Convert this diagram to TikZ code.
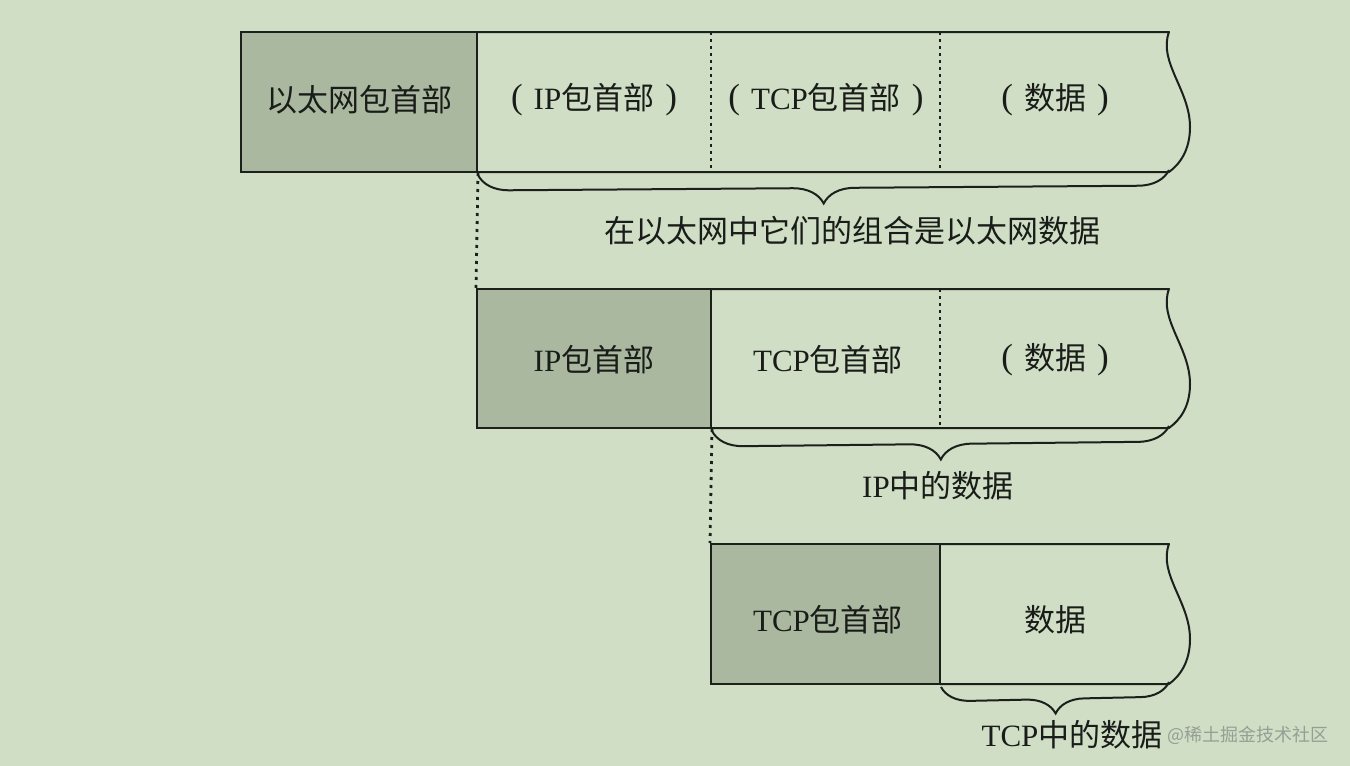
\documentclass[tikz,border=0pt]{standalone}
\usepackage{fontspec}
\setmainfont{Liberation Serif}
\newfontfamily\cjk{Noto Sans CJK SC}
\usetikzlibrary{decorations.pathreplacing}
\definecolor{bg}{RGB}{207,222,196}
\definecolor{darkfill}{RGB}{170,184,160}
\definecolor{linec}{RGB}{28,32,28}
\definecolor{txt}{RGB}{25,28,25}
\definecolor{wm}{RGB}{150,158,150}
\newcommand\fsz{\fontsize{31}{36}\selectfont}
\newcommand\lp{\raisebox{1pt}{\fontsize{35}{36}\selectfont(}\hspace{11pt}}
\newcommand\rp{\hspace{11pt}\raisebox{1pt}{\fontsize{35}{36}\selectfont)}}
\begin{document}
\begin{tikzpicture}[x=1pt,y=-1pt,
  hdr/.style={draw=linec, fill=darkfill, line width=2pt, minimum height=140pt, inner sep=0pt},
  lbl/.style={font=\fsz, text=txt, inner sep=0pt},
  outline/.style={draw=linec, line width=2pt, line join=round},
  sepline/.style={draw=linec, line width=2pt, dash pattern=on 2.5pt off 4.5pt},
  conn/.style={draw=linec, line width=2.8pt, dash pattern=on 3pt off 5pt},
  brc/.style={draw=linec, decorate, decoration={brace, mirror, amplitude=31pt}, line width=2pt},
]
\fill[bg] (0,0) rectangle (1350,766);
\useasboundingbox (0,0) rectangle (1350,766);

% ---------- row 1 ----------
\coordinate (r1tr) at (1169,32);
\coordinate (r1br) at (1169,172);
\coordinate (r1a) at (711,32);
\coordinate (r1b) at (711,172);
\coordinate (r1c) at (940,32);
\coordinate (r1d) at (940,172);
\draw[outline] (477,32) -- (r1tr) .. controls (1158,62) and (1190,90) .. (1190,127) .. controls (1190,150) and (1180,164) .. (r1br) -- (477,172);
\node[hdr, minimum width=236pt] (eth) at (359,102) {};
\node[lbl] (l1) at (359,100) {{\cjk 以太网包首部}};
\draw[sepline] (r1a) -- (r1b);
\draw[sepline] (r1c) -- (r1d);
\node[lbl] (l1a) at (594,100) {\lp IP{\cjk 包首部}\rp};
\node[lbl] (l1b) at (826,100) {\lp TCP{\cjk 包首部}\rp};
\node[lbl] (l1c) at (1055,100) {\lp{\cjk 数据}\rp};
\draw[brc] ([yshift=-2pt]eth.south east) -- ([yshift=2pt]r1br);
\node[lbl] (b1) at (852,231) {{\cjk 在以太网中它们的组合是以太网数据}};

% ---------- row 2 ----------
\coordinate (r2tr) at (1169,289);
\coordinate (r2br) at (1169,428);
\coordinate (r2c) at (940,289);
\coordinate (r2d) at (940,428);
\draw[outline] (711,289) -- (r2tr) .. controls (1158,319) and (1190,347) .. (1190,384) .. controls (1190,407) and (1180,420) .. (r2br) -- (711,428);
\node[hdr, minimum width=234pt, minimum height=139pt] (ip) at (594,358.5) {};
\node[lbl] (l2) at (594,360) {IP{\cjk 包首部}};
\draw[sepline] (r2c) -- (r2d);
\node[lbl] (l2b) at (828,360) {TCP{\cjk 包首部}};
\node[lbl] (l2c) at (1055,360) {\lp{\cjk 数据}\rp};
\draw[conn] (eth.south east) -- (ip.north west);
\draw[brc] ([yshift=-2pt]ip.south east) -- ([yshift=2pt]r2br);
\node[lbl] (b2) at (938,486) {IP{\cjk 中的数据}};

% ---------- row 3 ----------
\coordinate (r3tr) at (1169,544);
\coordinate (r3br) at (1169,684);
\draw[outline] (940,544) -- (r3tr) .. controls (1158,574) and (1190,602) .. (1190,639) .. controls (1190,662) and (1180,676) .. (r3br) -- (940,684);
\node[hdr, minimum width=229pt] (tcp) at (825.5,614) {};
\node[lbl] (l3) at (828,620) {TCP{\cjk 包首部}};
\node[lbl] (l3c) at (1055,620) {{\cjk 数据}};
\draw[conn] (ip.south east) -- (tcp.north west);
\draw[brc, decoration={amplitude=29pt}] ([yshift=-2pt]tcp.south east) -- ([yshift=2pt]r3br);
\node[lbl] (b3) at (1072,735) {TCP{\cjk 中的数据}};

% watermark
\node[inner sep=0pt, text=wm, font=\fontsize{18}{20}\selectfont] (wmk) at (1248,735) {{\cjk @稀土掘金技术社区}};
\end{tikzpicture}
\end{document}
